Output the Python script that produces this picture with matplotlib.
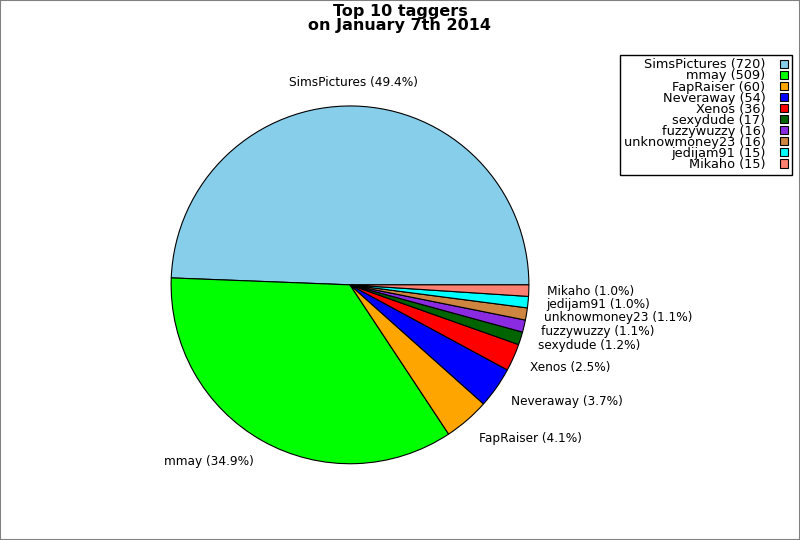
import matplotlib
matplotlib.use("Agg")
import matplotlib.pyplot as plt
from matplotlib.patches import Rectangle

# top taggers and their tag counts
taggers = ["SimsPictures", "mmay", "FapRaiser", "Neveraway", "Xenos",
           "sexydude", "fuzzywuzzy", "unknowmoney23", "jedijam91", "Mikaho"]
counts = [720, 509, 60, 54, 36, 17, 16, 16, 15, 15]
colors = ["skyblue", "lime", "orange", "blue", "red",
          "darkgreen", "blueviolet", "peru", "cyan", "salmon"]

total = float(sum(counts))
pie_labels = ["%s (%.1f%%)" % (t, 100.0 * c / total) for t, c in zip(taggers, counts)]
legend_labels = ["%s (%d)" % (t, c) for t, c in zip(taggers, counts)]

fig = plt.figure(figsize=(8, 5.4), dpi=100)
ax = fig.add_axes([0.158, 0.058, 0.559, 0.829])

wedges, texts = ax.pie(counts, labels=pie_labels, colors=colors,
                       wedgeprops={"edgecolor": "black", "linewidth": 0.8},
                       textprops={"fontsize": 8.7})
ax.set_aspect("equal")

# labels sit a little further out vertically in the original
for t in texts:
    x, y = t.get_position()
    t.set_position((x, y * 1.03))
texts[0].set_ha("center")

fig.suptitle("Top 10 taggers\non January 7th 2014", fontsize=11.5,
             fontweight="bold", y=0.993, linespacing=0.95)

leg = fig.legend(wedges, legend_labels, loc="upper right",
                 bbox_to_anchor=(0.990, 0.899), markerfirst=False,
                 fontsize=9.3, fancybox=False, edgecolor="black",
                 handlelength=0.6, handleheight=0.6, handletextpad=1.15,
                 labelspacing=-0.15, borderpad=0.3, borderaxespad=0.0,
                 framealpha=1)
leg.get_frame().set_linewidth(1.0)
for t in leg.get_texts():
    t.set_ha("right")

# thin gray border around the figure
fig.patches.append(Rectangle((0, 0), 1, 1, transform=fig.transFigure,
                             fill=False, edgecolor="gray", linewidth=1.5))

fig.savefig("out.png", dpi=100)
